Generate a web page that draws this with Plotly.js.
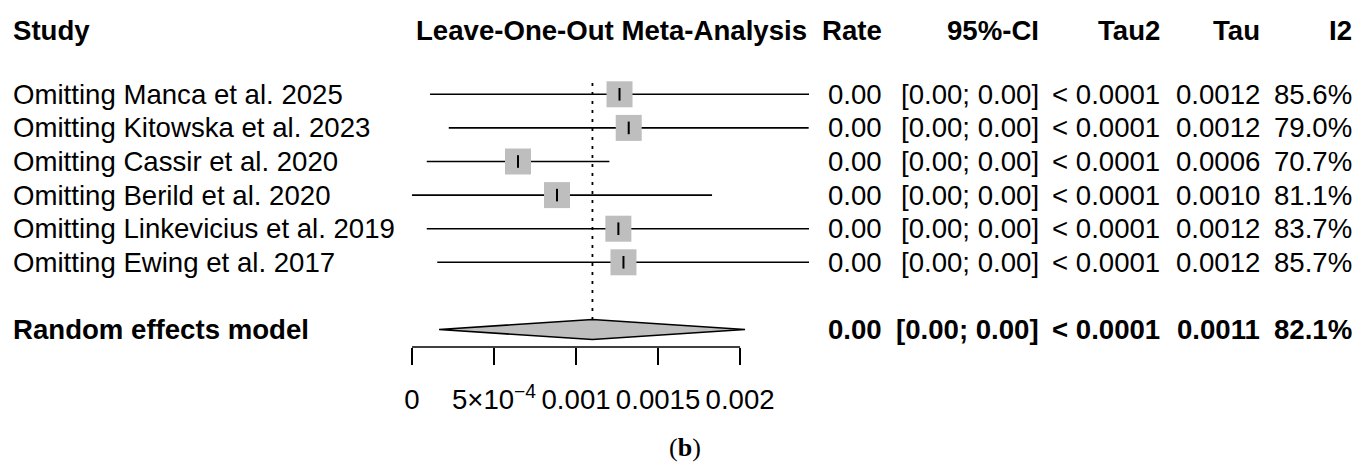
<!DOCTYPE html>
<html>
<head>
<meta charset="utf-8">
<script src="https://cdn.plot.ly/plotly-3.0.1.min.js"></script>
<style>html,body{margin:0;padding:0;background:#fff;}#chart{width:1358px;height:462px;}</style>
</head>
<body>
<div id="chart"></div>
<script>
// ---- data ----
const studies = [
  "Omitting Manca et al. 2025",
  "Omitting Kitowska et al. 2023",
  "Omitting Cassir et al. 2020",
  "Omitting Berild et al. 2020",
  "Omitting Linkevicius et al. 2019",
  "Omitting Ewing et al. 2017"
];
const estimate = [0.001265, 0.001321, 0.000646, 0.000884, 0.001258, 0.001289];
const lowerCI  = [0.000110, 0.000224, 0.000090, -0.000060, 0.000090, 0.000154];
const upperCI  = [0.002420, 0.002418, 0.001203, 0.001829, 0.002426, 0.002424];
const rateText = ["0.00", "0.00", "0.00", "0.00", "0.00", "0.00"];
const ciText   = ["[0.00; 0.00]", "[0.00; 0.00]", "[0.00; 0.00]", "[0.00; 0.00]", "[0.00; 0.00]", "[0.00; 0.00]"];
const tau2Text = ["< 0.0001", "< 0.0001", "< 0.0001", "< 0.0001", "< 0.0001", "< 0.0001"];
const tauText  = ["0.0012", "0.0012", "0.0006", "0.0010", "0.0012", "0.0012"];
const i2Text   = ["85.6%", "79.0%", "70.7%", "81.1%", "83.7%", "85.7%"];

const pooledLabel = "Random effects model";
const pooledEst = 0.0011;
const pooledLo = 0.000165;
const pooledHi = 0.00203;
const pooledText = ["0.00", "[0.00; 0.00]", "< 0.0001", "0.0011", "82.1%"];

const headers = ["Study", "Leave-One-Out Meta-Analysis", "Rate", "95%-CI", "Tau2", "Tau", "I2"];
const tickVals = [0, 0.0005, 0.001, 0.0015, 0.002];
const tickLabels = ["0", "5×10<sup>−4</sup>", "0.001", "0.0015", "0.002"];
const panelLabel = "(<b>b</b>)";

// ---- layout helpers (pixel geometry) ----
const W = 1358, H = 462;
const rowTop = 94.3, rowStep = 33.6, axisPx = 347;
const px2row = p => 1 + (p - rowTop) / rowStep;
const rows = studies.map((_, i) => i + 1);
const pooledRow = studies.length + 2;
const FONT = "Liberation Sans, Arial, sans-serif";
const FS = 27.6;
const GREY = "#BEBEBE";

const traces = [];
// CI lines
studies.forEach((s, i) => {
  traces.push({
    type: "scatter", mode: "lines", x: [lowerCI[i], upperCI[i]], y: [rows[i], rows[i]],
    line: {color: "#000", width: 1.6}, hoverinfo: "skip", showlegend: false
  });
});
// squares
traces.push({
  type: "scatter", mode: "markers", x: estimate, y: rows,
  marker: {symbol: "square", size: 26, color: GREY, line: {width: 0}},
  cliponaxis: false, hoverinfo: "skip", showlegend: false
});
// point ticks
traces.push({
  type: "scatter", mode: "markers", x: estimate, y: rows,
  marker: {symbol: "line-ns", size: 9, line: {color: "#000", width: 2}},
  cliponaxis: false, hoverinfo: "skip", showlegend: false
});
// dotted pooled line
const dH = 10 / rowStep;
traces.push({
  type: "scatter", mode: "lines", x: [pooledEst, pooledEst], y: [rows[0] - 0.34, pooledRow - dH],
  line: {color: "#000", width: 1.8, dash: "3px,6px"}, hoverinfo: "skip", showlegend: false
});
// diamond
traces.push({
  type: "scatter", mode: "lines",
  x: [pooledLo, pooledEst, pooledHi, pooledEst, pooledLo],
  y: [pooledRow, pooledRow - dH, pooledRow, pooledRow + dH, pooledRow],
  fill: "toself", fillcolor: GREY, line: {color: "#000", width: 1.5},
  hoverinfo: "skip", showlegend: false
});

// ---- annotations ----
const ann = [];
const colRight = [883, 1040, 1161, 1261, 1353];
function txt(xpx, row, text, anchor, bold, size, family) {
  ann.push({
    xref: "paper", yref: "y", x: xpx / W, y: row, text: bold ? "<b>" + text + "</b>" : text,
    xanchor: anchor, yanchor: "middle", showarrow: false, borderpad: 0,
    font: {family: family || FONT, size: size || FS, color: "#000"}
  });
}
const headerRow = px2row(30);
txt(12, headerRow, headers[0], "left", true);
txt((412 + 810) / 2, headerRow, headers[1], "center", true);
headers.slice(2).forEach((h, j) => txt(colRight[j], headerRow, h, "right", true));
studies.forEach((s, i) => {
  txt(12, rows[i], s, "left", false);
  [rateText[i], ciText[i], tau2Text[i], tauText[i], i2Text[i]].forEach((t, j) =>
    txt(colRight[j], rows[i], t, "right", false));
});
txt(12, pooledRow, pooledLabel, "left", true);
pooledText.forEach((t, j) => txt(colRight[j], pooledRow, t, "right", true));
ann.push({
  xref: "paper", yref: "paper", x: 685 / W, y: 1 - 447 / H, text: panelLabel,
  xanchor: "center", yanchor: "middle", showarrow: false,
  font: {family: "Liberation Serif, serif", size: 26, color: "#000"}
});

const yDomBottom = (H - axisPx) / H;
const layout = {
  width: W, height: H,
  margin: {l: 0, r: 0, t: 0, b: 0, pad: 0},
  paper_bgcolor: "#fff", plot_bgcolor: "rgba(0,0,0,0)",
  showlegend: false,
  xaxis: {
    domain: [412 / W, 809 / W], range: [0, 0.00242],
    showgrid: false, zeroline: false, showline: false,
    ticks: "outside", ticklen: 17, tickwidth: 1.6, tickcolor: "#000",
    tickmode: "array", tickvals: tickVals, ticktext: tickLabels,
    tickfont: {family: FONT, size: FS, color: "#000"}, ticklabelstandoff: 11
  },
  yaxis: {
    domain: [yDomBottom, 1], range: [px2row(axisPx), px2row(0)],
    visible: false, showgrid: false, zeroline: false
  },
  shapes: [{
    type: "line", xref: "x", yref: "paper", x0: tickVals[0], x1: tickVals[tickVals.length - 1],
    y0: yDomBottom, y1: yDomBottom, line: {color: "#000", width: 1.6}
  }],
  annotations: ann
};

Plotly.newPlot("chart", traces, layout, {staticPlot: true, displayModeBar: false});
</script>
</body>
</html>
